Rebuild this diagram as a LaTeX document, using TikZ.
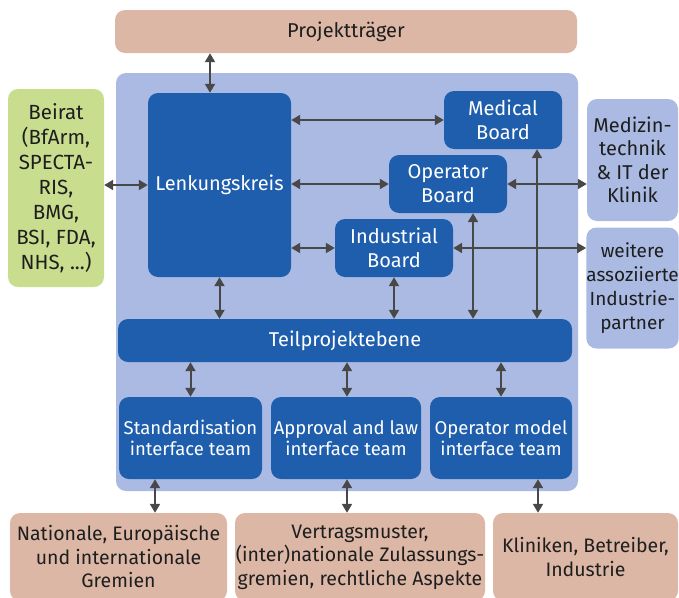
\documentclass[tikz,border=0pt]{standalone}
\usepackage{fontspec}
\setmainfont{Fira Sans}
\usetikzlibrary{arrows.meta}
\definecolor{dblue}{RGB}{30,94,172}
\definecolor{lblue}{RGB}{170,186,226}
\definecolor{pinkbox}{RGB}{220,183,166}
\definecolor{greenbox}{RGB}{201,221,142}
\definecolor{arrgray}{RGB}{72,72,72}
\definecolor{txt}{RGB}{30,30,30}
\tikzset{
  box/.style={rounded corners=10pt, inner sep=0pt, align=center, font=\fontsize{20}{24}\selectfont},
  dbox/.style={box, fill=dblue, text=white},
  lbox/.style={box, fill=lblue, text=txt, font=\fontsize{20}{23.5}\selectfont},
  pbox/.style={box, fill=pinkbox, text=txt, font=\fontsize{19.5}{23.5}\selectfont},
  gbox/.style={box, fill=greenbox, text=txt, font=\fontsize{20.5}{25}\selectfont},
  tbox/.style={dbox, font=\fontsize{18.5}{21.5}\selectfont},
  arr/.style={draw=arrgray, line width=2pt, {Triangle[length=9pt,width=10pt]}-{Triangle[length=9pt,width=10pt]}},
  sz/.style 2 args={minimum width=#1pt, minimum height=#2pt}
}
\begin{document}
\begin{tikzpicture}[x=1pt,y=-1pt]
\useasboundingbox (0,0) rectangle (679,597);
\clip (0,0) rectangle (679,597);
\node[pbox, sz={462}{43}, font=\fontsize{20}{24}\selectfont] (proj) at (346,31.5) {Projektträger};
\node[box, fill=lblue, sz={462}{418}] (panel) at (347,282) {};
\node[gbox, sz={96}{198}] (beirat) at (56,188) {Beirat\\(BfArm,\\SPECTA-\\RIS,\\BMG,\\BSI, FDA,\\NHS, ...)};
\node[dbox, sz={143}{184}] (lenk) at (219.5,185) {Lenkungskreis};
\node[dbox, sz={118}{58}] (med) at (503,120) {Medical\\Board};
\node[dbox, sz={118}{58}] (op) at (448,184) {Operator\\Board};
\node[dbox, sz={118}{58}] (ind) at (394,248) {Industrial\\Board};
\node[dbox, sz={454}{43}] (teil) at (345,340.5) {Teilprojektebene};
\node[tbox, sz={143}{82}] (std) at (190.5,438) {Standardisation\\interface team};
\node[tbox, sz={150}{82}] (appr) at (346,438) {Approval and law\\interface team};
\node[tbox, sz={142}{82}] (opm) at (501,438) {Operator model\\interface team};
\node[lbox, sz={91}{122}] (medt) at (632.5,160) {Medizin-\\technik\\\& IT der\\Klinik};
\node[lbox, sz={91}{121}, font=\fontsize{19}{24}\selectfont] (weit) at (632.5,288) {weitere\\assoziierte\\Industrie-\\partner};
\node[pbox, sz={217}{88}] (nat) at (118.5,557) {Nationale, Europäische\\und internationale\\Gremien};
\node[pbox, sz={250}{88}] (vert) at (360,557) {Vertragsmuster,\\(inter)nationale Zulassungs-\\gremien, rechtliche Aspekte};
\node[pbox, sz={185}{88}] (klin) at (585.5,557) {Kliniken, Betreiber,\\Industrie};
\coordinate (xa) at (210,0);
\coordinate (xb) at (473,0);
\coordinate (xc) at (537,0);
\coordinate (xd) at (155,0);
\coordinate (xe) at (347,0);
\coordinate (xf) at (538,0);
\draw[arr] (proj.south -| xa) -- (lenk.north -| xa);
\draw[arr] (beirat.east |- lenk.west) -- (lenk.west);
\draw[arr] (lenk.east |- med.west) -- (med.west);
\draw[arr] (lenk.east |- op.west) -- (op.west);
\draw[arr] (lenk.east |- ind.west) -- (ind.west);
\draw[arr] (lenk.south) -- (lenk.south |- teil.north);
\draw[arr] (ind.south) -- (ind.south |- teil.north);
\draw[arr] (op.south -| xb) -- (teil.north -| xb);
\draw[arr] (med.south -| xc) -- (teil.north -| xc);
\draw[arr] (op.east) -- (medt.west |- op.east);
\draw[arr] (ind.east) -- (weit.west |- ind.east);
\draw[arr] (teil.south -| std.north) -- (std.north);
\draw[arr] (teil.south -| xe) -- (appr.north -| xe);
\draw[arr] (teil.south -| opm.north) -- (opm.north);
\draw[arr] (std.south -| xd) -- (nat.north -| xd);
\draw[arr] (appr.south -| xe) -- (vert.north -| xe);
\draw[arr] (opm.south -| xf) -- (klin.north -| xf);
\end{tikzpicture}
\end{document}
